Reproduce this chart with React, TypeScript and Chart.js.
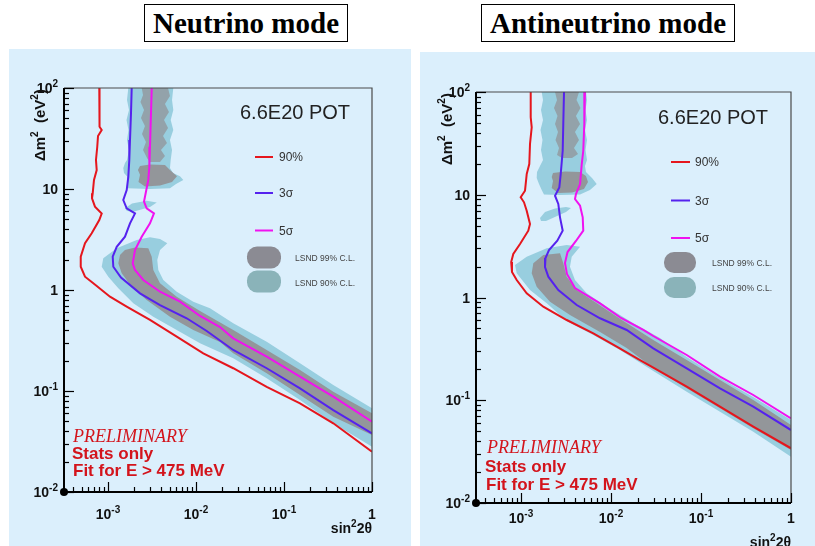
import React, { useEffect, useRef } from 'react';
import { Chart, registerables } from 'chart.js';

Chart.register(...registerables);

type P = [number, number];

// ---------- axis ranges & tick labels ----------
const X_MIN = 3.162e-4;
const X_MAX = 1;
const Y_MIN = 0.01;
const Y_MAX = 100;
const xTickLabels: [number, string, string][] = [
  [1e-3, '10', '-3'],
  [1e-2, '10', '-2'],
  [1e-1, '10', '-1'],
  [1, '1', ''],
];
const yTickLabels: [number, string, string][] = [
  [0.01, '10', '-2'],
  [0.1, '10', '-1'],
  [1, '1', ''],
  [10, '10', ''],
  [100, '10', '2'],
];
const legendLabels = ['90%', '3σ', '5σ'];
const lsndLabels = ['LSND 99% C.L.', 'LSND 90% C.L.'];
const panelTitles = ['Neutrino mode', 'Antineutrino mode'];
const potText = '6.6E20 POT';
const noteLines = ['PRELIMINARY', 'Stats only', 'Fit for E > 475 MeV'];

// ---------- Neutrino mode data (sin²2θ, Δm²) ----------
const nuRed: P[] = [
  [7.96e-4, 100], [7.96e-4, 60.6], [8.07e-4, 41.4], [8.48e-4, 38.4], [7.7e-4, 33.5], [7.55e-4, 26.2],
  [7.3e-4, 19.4], [7.44e-4, 15.4], [6.93e-4, 12.3], [6.7e-4, 9.07], [6.58e-4, 8.09], [7.11e-4, 6.68],
  [8.48e-4, 5.72], [7.96e-4, 4.93], [6.53e-4, 3.64], [5.48e-4, 2.9], [4.9e-4, 2.14], [4.9e-4, 1.7],
  [5.48e-4, 1.354], [6.81e-4, 1.165], [1.054e-3, 0.858], [1.63e-3, 0.684], [3.0e-3, 0.505],
  [6.04e-3, 0.345], [1.21e-2, 0.236], [2.65e-2, 0.168], [6.36e-2, 0.11], [0.152, 0.0755],
  [0.363, 0.0479], [1.0, 0.0251],
];
const nuBlue: P[] = [
  [1.859e-3, 100], [1.825e-3, 56.2], [1.778e-3, 30.6], [1.746e-3, 19.4], [1.701e-3, 13.2],
  [1.631e-3, 9.77], [1.492e-3, 7.78], [1.631e-3, 6.44], [2.027e-3, 5.74], [1.778e-3, 4.57],
  [1.56e-3, 3.37], [1.256e-3, 2.68], [1.131e-3, 2.14], [1.149e-3, 1.7], [1.405e-3, 1.33],
  [2.31e-3, 0.927], [3.9e-3, 0.71], [7.84e-3, 0.525], [1.323e-2, 0.393], [2.65e-2, 0.255],
  [6.36e-2, 0.168], [0.152, 0.1063], [0.363, 0.0648], [1.0, 0.0381],
];
const nuMagenta: P[] = [
  [3.14e-3, 100], [3.08e-3, 56.2], [3.0e-3, 26.2], [2.95e-3, 16.6], [2.87e-3, 12.3], [2.7e-3, 9.4],
  [2.566e-3, 7.49], [2.75e-3, 6.44], [3.33e-3, 5.74], [3.0e-3, 4.57], [2.415e-3, 3.37],
  [2.027e-3, 2.49], [1.909e-3, 1.838], [2.027e-3, 1.578], [2.52e-3, 1.256], [3.9e-3, 0.962],
  [6.58e-3, 0.766], [1.111e-2, 0.553], [1.874e-2, 0.43], [2.65e-2, 0.3325], [6.36e-2, 0.2187],
  [0.152, 0.1385], [0.363, 0.0878], [1.0, 0.0497],
];
const nuLsnd90Column: P[] = [
  [1.701e-3, 100], [1.644e-3, 76.1], [1.732e-3, 60.6], [1.623e-3, 48.2], [1.71e-3, 38.4],
  [1.644e-3, 30.6], [1.732e-3, 24.3], [1.644e-3, 19.4], [1.56e-3, 18.1], [1.492e-3, 16.1],
  [1.52e-3, 14.4], [1.644e-3, 13.4], [1.665e-3, 10.16], [3.0e-3, 10.0], [5.06e-3, 10.16],
  [5.93e-3, 11.2], [7.17e-3, 12.3], [6.58e-3, 13.4], [5.48e-3, 14.4], [5.06e-3, 16.1],
  [5.16e-3, 19.4], [5.34e-3, 24.3], [5.06e-3, 30.6], [5.52e-3, 38.4], [5.16e-3, 48.2],
  [5.52e-3, 60.6], [5.34e-3, 76.1], [5.52e-3, 100],
];
const nuLsnd90Island: P[] = [
  [1.56e-3, 6.44], [1.875e-3, 7.18], [2.75e-3, 7.66], [3.58e-3, 7.35], [3.0e-3, 6.63],
  [1.94e-3, 5.96], [1.644e-3, 6.06],
];
const nuLsnd90Band: P[] = [
  [2.12e-3, 3.13], [3.0e-3, 3.33], [3.9e-3, 3.2], [4.72e-3, 2.9], [3.9e-3, 2.49], [3.63e-3, 1.98],
  [3.73e-3, 1.578], [4.25e-3, 1.256], [6.04e-3, 0.962], [9.32e-3, 0.766], [1.442e-2, 0.659],
  [2.65e-2, 0.468], [6.36e-2, 0.3076], [0.152, 0.188], [0.363, 0.1147], [1, 0.0674], [1, 0.0281],
  [0.363, 0.0479], [0.152, 0.0815], [0.0636, 0.1335], [0.0265, 0.2108], [1.111e-2, 0.2967],
  [6.04e-3, 0.402], [3.27e-3, 0.544], [1.94e-3, 0.738], [1.31e-3, 1.039], [1.008e-3, 1.354],
  [8.48e-4, 1.7], [8.84e-4, 2.06], [1.256e-3, 2.59],
];
const nuLsnd99Column: P[] = [
  [2.415e-3, 100], [2.5e-3, 85.3], [2.34e-3, 72.7], [2.566e-3, 60.6], [2.37e-3, 50.5],
  [2.63e-3, 42.0], [2.435e-3, 35.0], [2.7e-3, 29.2], [2.5e-3, 24.3], [2.775e-3, 20.3],
  [3.0e-3, 18.5], [3.9e-3, 18.5], [4.44e-3, 21.2], [4.0e-3, 24.3], [4.68e-3, 28.5],
  [4.22e-3, 33.5], [4.81e-3, 40.2], [4.33e-3, 48.2], [4.93e-3, 57.9], [4.44e-3, 69.4],
  [5.06e-3, 83.3], [4.81e-3, 100],
];
const nuLsnd99Blob: P[] = [
  [2.31e-3, 16.9], [3.0e-3, 17.5], [4.44e-3, 17.3], [5.06e-3, 15.4], [6.08e-3, 13.4],
  [5.34e-3, 11.7], [3.9e-3, 10.8], [2.63e-3, 10.6], [2.22e-3, 11.7], [2.31e-3, 13.8],
  [2.19e-3, 15.4],
];
const nuLsnd99Band: P[] = [
  [1.56e-3, 2.49], [2.027e-3, 2.64], [2.87e-3, 2.59], [3.14e-3, 2.14], [3.27e-3, 1.578],
  [3.9e-3, 1.165], [6.04e-3, 0.858], [1.111e-2, 0.619], [2.65e-2, 0.402], [6.36e-2, 0.255],
  [0.152, 0.1614], [0.363, 0.0984], [1, 0.0601], [1, 0.0367], [0.363, 0.0556], [0.152, 0.0913],
  [0.0636, 0.1497], [0.0265, 0.236], [1.874e-2, 0.3055], [9.32e-3, 0.402], [5.06e-3, 0.544],
  [2.75e-3, 0.796], [1.859e-3, 1.078], [1.431e-3, 1.463], [1.31e-3, 1.838], [1.369e-3, 2.22],
];

// ---------- Antineutrino mode data ----------
const anRed: P[] = [
  [1.282e-3, 100], [1.282e-3, 56.7], [1.315e-3, 45.3], [1.259e-3, 31.2], [1.236e-3, 19.9],
  [1.157e-3, 15.9], [1.108e-3, 10.95], [9.92e-4, 9.45], [1.08e-3, 8.44], [1.157e-3, 6.99],
  [1.259e-3, 5.19], [1.205e-3, 4.47], [9.75e-4, 3.32], [8.21e-4, 2.65], [7.78e-4, 2.215],
  [7.94e-4, 1.771], [8.96e-4, 1.48], [1.157e-3, 1.099], [1.769e-3, 0.814], [3.22e-3, 0.604],
  [6.36e-3, 0.448], [1.157e-2, 0.332], [2.1e-2, 0.2464], [2.95e-2, 0.2083], [6.94e-2, 0.1355],
  [0.1626, 0.0866], [0.381, 0.0553], [1, 0.0341],
];
const anBlue: P[] = [
  [3.005e-3, 100], [2.95e-3, 48.8], [2.906e-3, 26.8], [2.762e-3, 15.9], [2.665e-3, 11.8],
  [2.387e-3, 9.79], [2.597e-3, 8.13], [2.713e-3, 6.03], [2.906e-3, 4.47], [2.531e-3, 3.57],
  [2.047e-3, 2.9], [1.872e-3, 2.42], [1.848e-3, 1.98], [2.011e-3, 1.594], [2.597e-3, 1.183],
  [4.16e-3, 0.845], [7.55e-3, 0.628], [1.494e-2, 0.483], [2.95e-2, 0.32], [6.94e-2, 0.2046],
  [0.1626, 0.1307], [0.381, 0.0866], [1, 0.0513],
];
const anMagenta: P[] = [
  [5.14e-3, 100], [5.05e-3, 48.8], [4.92e-3, 26.8], [4.73e-3, 19.9], [4.53e-3, 12.7],
  [4.08e-3, 10.17], [3.98e-3, 9.09], [4.53e-3, 7.82], [4.85e-3, 6.03], [4.92e-3, 4.47],
  [4.08e-3, 3.55], [3.29e-3, 2.77], [3.08e-3, 2.17], [3.24e-3, 1.693], [3.98e-3, 1.237],
  [7.55e-3, 0.878], [1.292e-2, 0.632], [2.285e-2, 0.483], [2.95e-2, 0.422], [6.94e-2, 0.2757],
  [0.1626, 0.1695], [0.381, 0.1125], [1, 0.0667],
];
const anLsnd90Column: P[] = [
  [1.698e-3, 100], [1.756e-3, 83.6], [1.668e-3, 66.8], [1.756e-3, 53.4], [1.647e-3, 42.7],
  [1.733e-3, 34.1], [1.668e-3, 27.3], [1.756e-3, 21.8], [1.626e-3, 19.05], [1.506e-3, 16.65],
  [1.494e-3, 14.55], [1.585e-3, 12.7], [1.698e-3, 11.12], [1.801e-3, 10.06], [2.713e-3, 9.94],
  [4.53e-3, 10.06], [5.84e-3, 11.12], [6.94e-3, 12.7], [6.15e-3, 14.55], [5.27e-3, 16.65],
  [5.14e-3, 19.05], [5.41e-3, 21.8], [5.21e-3, 27.3], [5.41e-3, 34.1], [5.14e-3, 42.7],
  [5.41e-3, 53.4], [5.21e-3, 66.8], [5.41e-3, 83.6], [5.27e-3, 100],
];
const anLsnd90Island: P[] = [
  [1.626e-3, 5.94], [1.848e-3, 6.8], [2.387e-3, 7.35], [3.162e-3, 7.6], [3.59e-3, 7.43],
  [3.162e-3, 6.8], [2.449e-3, 6.14], [1.896e-3, 5.55], [1.668e-3, 5.55],
];
const anLsnd90Band: P[] = [
  [3.22e-3, 3.24], [4.53e-3, 3.12], [3.66e-3, 2.49], [3.5e-3, 1.995], [3.98e-3, 1.48],
  [5.37e-3, 1.099], [8.96e-3, 0.814], [1.769e-2, 0.561], [3.5e-2, 0.4034], [6.94e-2, 0.2636],
  [0.1626, 0.1646], [0.381, 0.1075], [1, 0.0642], [1, 0.0282], [0.381, 0.0494], [0.1626, 0.0774],
  [6.94e-2, 0.1211], [2.95e-2, 0.1926], [1.259e-2, 0.3083], [6.36e-3, 0.4315], [3.22e-3, 0.5905],
  [1.931e-3, 0.878], [1.259e-3, 1.183], [8.96e-4, 1.72], [8.58e-4, 2.072], [1.157e-3, 2.49],
  [1.931e-3, 3.01],
];
const anLsnd99Column: P[] = [
  [2.387e-3, 100], [2.512e-3, 83.6], [2.326e-3, 69.9], [2.544e-3, 58.4], [2.387e-3, 48.8],
  [2.577e-3, 40.8], [2.418e-3, 34.1], [2.644e-3, 28.5], [2.512e-3, 24.4], [2.856e-3, 22.8],
  [3.69e-3, 22.8], [4.3e-3, 24.9], [3.88e-3, 28.5], [4.41e-3, 34.1], [3.98e-3, 40.8],
  [4.53e-3, 48.8], [4.08e-3, 58.4], [4.58e-3, 69.9], [4.14e-3, 83.6], [4.41e-3, 100],
];
const anLsnd99Blob: P[] = [
  [2.268e-3, 16.28], [3.08e-3, 16.83], [4.53e-3, 16.65], [5.27e-3, 15.22], [5.55e-3, 13.3],
  [5.01e-3, 11.38], [3.69e-3, 10.52], [2.577e-3, 10.4], [2.193e-3, 11.63], [2.268e-3, 13.6],
  [2.193e-3, 14.88],
];
const anLsnd99Band: P[] = [
  [1.769e-3, 2.59], [2.713e-3, 2.69], [2.95e-3, 2.15], [3.22e-3, 1.594], [4.16e-3, 1.183],
  [6.94e-3, 0.878], [1.292e-2, 0.611], [2.95e-2, 0.386], [6.94e-2, 0.2464], [0.1626, 0.1574],
  [0.381, 0.1006], [1, 0.0574], [1, 0.0328], [0.381, 0.0533], [0.1626, 0.0835], [6.94e-2, 0.1307],
  [2.95e-2, 0.206], [1.494e-2, 0.3225], [7.55e-3, 0.4615], [3.5e-3, 0.676], [2.1e-3, 0.91],
  [1.494e-3, 1.274], [1.315e-3, 1.72], [1.37e-3, 2.15],
];

// ---------- styles ----------
const BG = '#dbeffc';
const CYAN = '#98cedf';
const GRAY = 'rgba(146,146,150,0.95)';
const GRAY_STRIPED = 'rgba(146,146,150,0.72)';
const RED = '#e5161d';
const BLUE = '#5522ee';
const MAGENTA = '#f012f0';
const NOTE_RED = '#d3141c';
const LEG_99 = '#8b8b93';
const LEG_90 = '#8ab3b9';
const SANS = '"Liberation Sans", Arial, Helvetica, sans-serif';
const SERIF = '"Liberation Serif", "Times New Roman", serif';

interface Panel {
  red: P[]; blue: P[]; magenta: P[];
  c90: P[][]; c99: P[][]; c99Striped: P[];
  ox: number; oy: number; w: number; h: number;
  area: { l: number; t: number; r: number; b: number };
  pot: [number, number];
  legX1: number; legX2: number; legLabelX: number; legYs: number[];
  blobX: number; blobW: number; blobYs: [number, number][]; blobLabelX: number; blobLabelYs: number[];
  noteX: number[]; noteY: number[];
  xLabelBase: number; yTitleX: number; yTitleBottom: number; xTitleBase: number;
}

const panels: Panel[] = [
  {
    red: nuRed, blue: nuBlue, magenta: nuMagenta,
    c90: [nuLsnd90Column, nuLsnd90Island, nuLsnd90Band], c99: [nuLsnd99Blob, nuLsnd99Band], c99Striped: nuLsnd99Column,
    ox: 9, oy: 49, w: 402, h: 497,
    area: { l: 64, t: 88, r: 372, b: 492 },
    pot: [240, 113],
    legX1: 255, legX2: 273, legLabelX: 279, legYs: [157, 193, 230.5],
    blobX: 247, blobW: 34, blobYs: [[246.5, 22], [270.5, 22]], blobLabelX: 295, blobLabelYs: [259, 284],
    noteX: [73, 72, 73], noteY: [437, 454, 471],
    xLabelBase: 519, yTitleX: 40, yTitleBottom: 161, xTitleBase: 533,
  },
  {
    red: anRed, blue: anBlue, magenta: anMagenta,
    c90: [anLsnd90Column, anLsnd90Island, anLsnd90Band], c99: [anLsnd99Blob, anLsnd99Band], c99Striped: anLsnd99Column,
    ox: 420, oy: 52, w: 395, h: 494,
    area: { l: 476, t: 92, r: 791, b: 503 },
    pot: [658, 118],
    legX1: 671, legX2: 690, legLabelX: 695, legYs: [162, 200.5, 238],
    blobX: 664, blobW: 32, blobYs: [[252, 21], [277, 21]], blobLabelX: 712, blobLabelYs: [264, 289],
    noteX: [487, 485, 486], noteY: [448, 467, 485],
    xLabelBase: 523, yTitleX: 447, yTitleBottom: 165, xTitleBase: 547,
  },
];

const toXY = (pts: P[]) => pts.map(([x, y]) => ({ x, y }));

function lineDs(label: string, pts: P[], color: string) {
  return {
    label, data: toXY(pts), borderColor: color, backgroundColor: color,
    borderWidth: 2, pointRadius: 0, showLine: true, fill: false,
  };
}
function regionDs(label: string, pts: P[], color: string) {
  return {
    label, data: toXY(pts), borderColor: 'rgba(0,0,0,0)', backgroundColor: color,
    borderWidth: 0, pointRadius: 0, showLine: true, fill: 'shape',
  };
}

function drawPow(ctx: CanvasRenderingContext2D, base: string, exp: string, x: number, y: number,
  align: 'center' | 'right' | 'left', size: number, supSize: number) {
  const bf = `bold ${size}px ${SANS}`;
  const sf = `bold ${supSize}px ${SANS}`;
  ctx.font = bf;
  const bw = ctx.measureText(base).width;
  ctx.font = sf;
  const ew = exp ? ctx.measureText(exp).width : 0;
  const total = bw + ew;
  const sx = align === 'center' ? x - total / 2 : align === 'right' ? x - total : x;
  ctx.textAlign = 'left';
  ctx.textBaseline = 'alphabetic';
  ctx.font = bf;
  ctx.fillText(base, sx, y);
  if (exp) {
    ctx.font = sf;
    ctx.fillText(exp, sx + bw, y - size * 0.45);
  }
  return total;
}

function makeDeco(p: Panel) {
  return {
    id: 'deco',
    beforeDraw(chart: any) {
      const ctx = chart.ctx as CanvasRenderingContext2D;
      ctx.save();
      ctx.fillStyle = BG;
      ctx.fillRect(0, 0, chart.width, chart.height);
      ctx.restore();
    },
    afterDraw(chart: any) {
      const ctx = chart.ctx as CanvasRenderingContext2D;
      const a = chart.chartArea;
      const xs = chart.scales.x;
      const ys = chart.scales.y;
      const X = (v: number) => v - p.ox;
      const Y = (v: number) => v - p.oy;
      ctx.save();
      // frame top / right
      ctx.strokeStyle = '#4a4a4a';
      ctx.lineWidth = 1.2;
      ctx.beginPath();
      ctx.moveTo(a.left, a.top);
      ctx.lineTo(a.right, a.top);
      ctx.lineTo(a.right, a.bottom);
      ctx.stroke();
      // ticks
      ctx.strokeStyle = '#000';
      ctx.lineWidth = 1.2;
      for (let d = -4; d <= 0; d++) {
        for (let m = 1; m <= 9; m++) {
          const v = m * Math.pow(10, d);
          if (v < X_MIN * 1.001 || v > X_MAX * 1.001) continue;
          const px = Math.round(xs.getPixelForValue(v)) + 0.5;
          const len = m === 1 ? 10 : 5;
          ctx.beginPath();
          ctx.moveTo(px, a.bottom);
          ctx.lineTo(px, a.bottom - len);
          ctx.stroke();
        }
      }
      for (let d = -2; d <= 2; d++) {
        for (let m = 1; m <= 9; m++) {
          const v = m * Math.pow(10, d);
          if (v < Y_MIN * 0.999 || v > Y_MAX * 1.001) continue;
          const py = Math.round(ys.getPixelForValue(v)) + 0.5;
          const len = m === 1 ? 10 : 5;
          ctx.beginPath();
          ctx.moveTo(a.left, py);
          ctx.lineTo(a.left + len, py);
          ctx.stroke();
        }
      }
      // axes
      ctx.lineWidth = 2;
      ctx.beginPath();
      ctx.moveTo(a.left, a.top);
      ctx.lineTo(a.left, a.bottom);
      ctx.lineTo(a.right, a.bottom);
      ctx.stroke();
      ctx.fillStyle = '#000';
      ctx.beginPath();
      ctx.arc(a.left, a.bottom, 4, 0, Math.PI * 2);
      ctx.fill();
      // tick labels
      ctx.fillStyle = '#111';
      for (const [v, b, e] of xTickLabels) {
        drawPow(ctx, b, e, xs.getPixelForValue(v), Y(p.xLabelBase), 'center', 14, 10);
      }
      for (const [v, b, e] of yTickLabels) {
        drawPow(ctx, b, e, a.left - 6, ys.getPixelForValue(v) + 5, 'right', 14, 10);
      }
      // x title sin²2θ (right aligned)
      {
        ctx.font = `bold 14px ${SANS}`;
        const w1 = ctx.measureText('sin').width;
        const w3 = ctx.measureText('2θ').width;
        ctx.font = `bold 10px ${SANS}`;
        const w2 = ctx.measureText('2').width;
        let sx = a.right - (w1 + w2 + w3);
        const by = Y(p.xTitleBase);
        ctx.textAlign = 'left';
        ctx.font = `bold 14px ${SANS}`;
        ctx.fillText('sin', sx, by);
        ctx.font = `bold 10px ${SANS}`;
        ctx.fillText('2', sx + w1, by - 6);
        ctx.font = `bold 14px ${SANS}`;
        ctx.fillText('2θ', sx + w1 + w2, by);
      }
      // y title Δm² (eV²) rotated
      {
        ctx.save();
        ctx.translate(X(p.yTitleX) + 5, Y(p.yTitleBottom));
        ctx.rotate(-Math.PI / 2);
        ctx.textAlign = 'left';
        let u = 0;
        const parts: [string, boolean][] = [['Δm', false], ['2', true], ['  (eV', false], ['2', true], [')', false]];
        for (const [t, sup] of parts) {
          ctx.font = sup ? `bold 10px ${SANS}` : `bold 15px ${SANS}`;
          ctx.fillText(t, u, sup ? -7 : 0);
          u += ctx.measureText(t).width;
        }
        ctx.restore();
      }
      // POT text
      ctx.fillStyle = '#222';
      ctx.font = `20px ${SANS}`;
      ctx.textBaseline = 'middle';
      ctx.textAlign = 'left';
      ctx.fillText(potText, X(p.pot[0]), Y(p.pot[1]));
      // legend lines
      const legColors = [RED, BLUE, MAGENTA];
      legendLabels.forEach((lab, i) => {
        const yy = Y(p.legYs[i]);
        ctx.strokeStyle = legColors[i];
        ctx.lineWidth = 2;
        ctx.beginPath();
        ctx.moveTo(X(p.legX1), yy);
        ctx.lineTo(X(p.legX2), yy);
        ctx.stroke();
        ctx.fillStyle = '#333';
        ctx.font = `12px ${SANS}`;
        ctx.fillText(lab, X(p.legLabelX), yy + 1);
      });
      // LSND blobs
      const blobColors = [LEG_99, LEG_90];
      lsndLabels.forEach((lab, i) => {
        const [by, bh] = p.blobYs[i];
        ctx.fillStyle = blobColors[i];
        ctx.beginPath();
        (ctx as any).roundRect(X(p.blobX), Y(by), p.blobW, bh, 10);
        ctx.fill();
        ctx.fillStyle = '#444';
        ctx.font = `8.5px ${SANS}`;
        ctx.fillText(lab, X(p.blobLabelX), Y(p.blobLabelYs[i]));
      });
      // notes
      ctx.fillStyle = NOTE_RED;
      ctx.font = `italic 18px ${SERIF}`;
      ctx.fillText(noteLines[0], X(p.noteX[0]), Y(p.noteY[0]));
      ctx.font = `bold 17px ${SANS}`;
      ctx.fillText(noteLines[1], X(p.noteX[1]), Y(p.noteY[1]));
      ctx.fillText(noteLines[2], X(p.noteX[2]), Y(p.noteY[2]));
      ctx.restore();
    },
  };
}

function PanelChart({ p }: { p: Panel }) {
  const ref = useRef<HTMLCanvasElement | null>(null);
  useEffect(() => {
    if (!ref.current) return;
    const datasets: any[] = [
      lineDs('90%', p.red, RED),
      lineDs('3σ', p.blue, BLUE),
      lineDs('5σ', p.magenta, MAGENTA),
      ...p.c99.map((r, i) => regionDs('LSND 99% ' + i, r, GRAY)),
      regionDs('LSND 99% column', p.c99Striped, GRAY_STRIPED),
      ...p.c90.map((r, i) => regionDs('LSND 90% ' + i, r, CYAN)),
    ];
    const chart = new Chart(ref.current, {
      type: 'scatter',
      data: { datasets },
      options: {
        responsive: false,
        animation: false,
        events: [],
        layout: {
          padding: {
            left: p.area.l - p.ox,
            top: p.area.t - p.oy,
            right: p.ox + p.w - p.area.r,
            bottom: p.oy + p.h - p.area.b,
          },
        },
        scales: {
          x: { type: 'logarithmic', min: X_MIN, max: X_MAX, bounds: 'data', display: false },
          y: { type: 'logarithmic', min: Y_MIN, max: Y_MAX, bounds: 'data', display: false },
        },
        plugins: { legend: { display: false }, tooltip: { enabled: false } },
        elements: { line: { tension: 0 } },
      } as any,
      plugins: [makeDeco(p)],
    });
    return () => chart.destroy();
  }, [p]);
  return (
    <canvas
      ref={ref}
      width={p.w}
      height={p.h}
      style={{ position: 'absolute', left: p.ox, top: p.oy, width: p.w, height: p.h }}
    />
  );
}

const titleBoxes = [
  { left: 144, width: 204 },
  { left: 481, width: 254 },
];

export default function App() {
  useEffect(() => {
    document.body.style.margin = '0';
  }, []);
  return (
    <div style={{ position: 'absolute', left: 0, top: 0, width: 815, height: 546, background: '#fff', overflow: 'hidden' }}>
      {panels.map((p, i) => (
        <PanelChart key={i} p={p} />
      ))}
      {titleBoxes.map((b, i) => (
        <div
          key={i}
          style={{
            position: 'absolute', left: b.left, top: 4, width: b.width, height: 38, boxSizing: 'border-box',
            border: '1px solid #000', background: '#fff', display: 'flex', alignItems: 'center',
            justifyContent: 'center', fontFamily: SERIF, fontWeight: 'bold', fontSize: 29, color: '#000',
            lineHeight: 1,
          }}
        >
          {panelTitles[i]}
        </div>
      ))}
    </div>
  );
}
